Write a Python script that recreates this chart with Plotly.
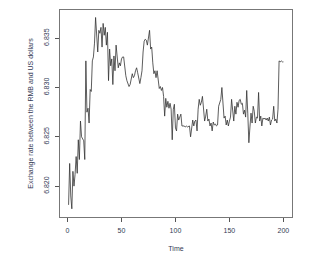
import plotly.graph_objects as go

time = list(range(1, 201))
rate = [
    6.8181, 6.8223, 6.8190, 6.8177, 6.8215, 6.8200, 6.8212, 6.8230, 6.8213, 6.8247,
    6.8227, 6.8266, 6.8250, 6.8248, 6.8246, 6.8227, 6.8327, 6.8275, 6.8279, 6.8264,
    6.8298, 6.8296, 6.8327, 6.8331, 6.8345, 6.8371, 6.8356, 6.8336, 6.8358, 6.8355,
    6.8361, 6.8341, 6.8365, 6.8353, 6.8361, 6.8343, 6.8356, 6.8307, 6.8339, 6.8322,
    6.8329, 6.8303, 6.8332, 6.8317, 6.8343, 6.8327, 6.8320, 6.8325, 6.8322, 6.8329,
    6.8331, 6.8331, 6.8317, 6.8312, 6.8307, 6.8303, 6.8301, 6.8303, 6.8310, 6.8314,
    6.8310, 6.8312, 6.8317, 6.8320, 6.8315, 6.8308, 6.8304, 6.8310, 6.8317, 6.8336,
    6.8347, 6.8349, 6.8348, 6.8343, 6.8349, 6.8358, 6.8339, 6.8341, 6.8325, 6.8314,
    6.8317, 6.8310, 6.8317, 6.8307, 6.8299, 6.8301, 6.8297, 6.8300, 6.8291, 6.8271,
    6.8289, 6.8280, 6.8286, 6.8279, 6.8284, 6.8278, 6.8247, 6.8278, 6.8283, 6.8259,
    6.8256, 6.8273, 6.8267, 6.8270, 6.8273, 6.8261, 6.8261, 6.8261, 6.8260, 6.8261,
    6.8260, 6.8261, 6.8261, 6.8250, 6.8262, 6.8267, 6.8261, 6.8266, 6.8267, 6.8256,
    6.8278, 6.8288, 6.8282, 6.8285, 6.8291, 6.8280, 6.8266, 6.8271, 6.8278, 6.8266,
    6.8268, 6.8261, 6.8264, 6.8256, 6.8265, 6.8262, 6.8263, 6.8261, 6.8262, 6.8281,
    6.8284, 6.8288, 6.8300, 6.8281, 6.8269, 6.8271, 6.8262, 6.8267, 6.8261, 6.8266,
    6.8270, 6.8288, 6.8274, 6.8266, 6.8281, 6.8273, 6.8285, 6.8280, 6.8287, 6.8288,
    6.8283, 6.8284, 6.8273, 6.8277, 6.8270, 6.8297, 6.8274, 6.8244, 6.8260, 6.8274,
    6.8264, 6.8281, 6.8276, 6.8264, 6.8270, 6.8269, 6.8295, 6.8266, 6.8271, 6.8261,
    6.8269, 6.8268, 6.8269, 6.8267, 6.8269, 6.8266, 6.8270, 6.8262, 6.8267, 6.8268,
    6.8281, 6.8266, 6.8268, 6.8264, 6.8278, 6.8327, 6.8326, 6.8327, 6.8326, 6.8326,
]
x_ticks = [0, 50, 100, 150, 200]
y_ticks = [6.820, 6.825, 6.830, 6.835]
y_tick_labels = ["6.820", "6.825", "6.830", "6.835"]

txt = "#333a55"
fig = go.Figure(go.Scatter(x=time, y=rate, mode="lines",
                           line=dict(color="#333333", width=0.8)))
fig.update_layout(
    width=311, height=253,
    margin=dict(l=60, r=19, t=10, b=36),
    paper_bgcolor="white", plot_bgcolor="white",
    showlegend=False, hovermode=False,
    font=dict(family="Liberation Sans, Arial, sans-serif", size=7, color=txt),
)
fig.update_xaxes(
    range=[-6.96, 207.96], tickvals=x_ticks, ticks="outside", ticklen=4,
    tickcolor="#555555", showline=True, linecolor="#777777", linewidth=1,
    mirror=True, showgrid=False, zeroline=False, ticklabelstandoff=3,
    automargin=False,
    title=dict(text="Time", standoff=12, font=dict(size=7, color=txt)),
)
fig.update_yaxes(
    range=[6.81687, 6.83786], tickvals=y_ticks, ticktext=y_tick_labels,
    tickangle=-90, ticks="outside", ticklen=4, ticklabelstandoff=3,
    tickcolor="#555555", showline=True, linecolor="#777777", linewidth=1,
    mirror=True, showgrid=False, zeroline=False, automargin=False,
    title=dict(text="Exchange rate between the RMB and US dollars", standoff=8,
               font=dict(size=7, color=txt)),
)
fig.write_html("out.html", config={"displayModeBar": False, "staticPlot": True},
               post_script="document.body.style.margin='0';document.body.style.padding='0';")
